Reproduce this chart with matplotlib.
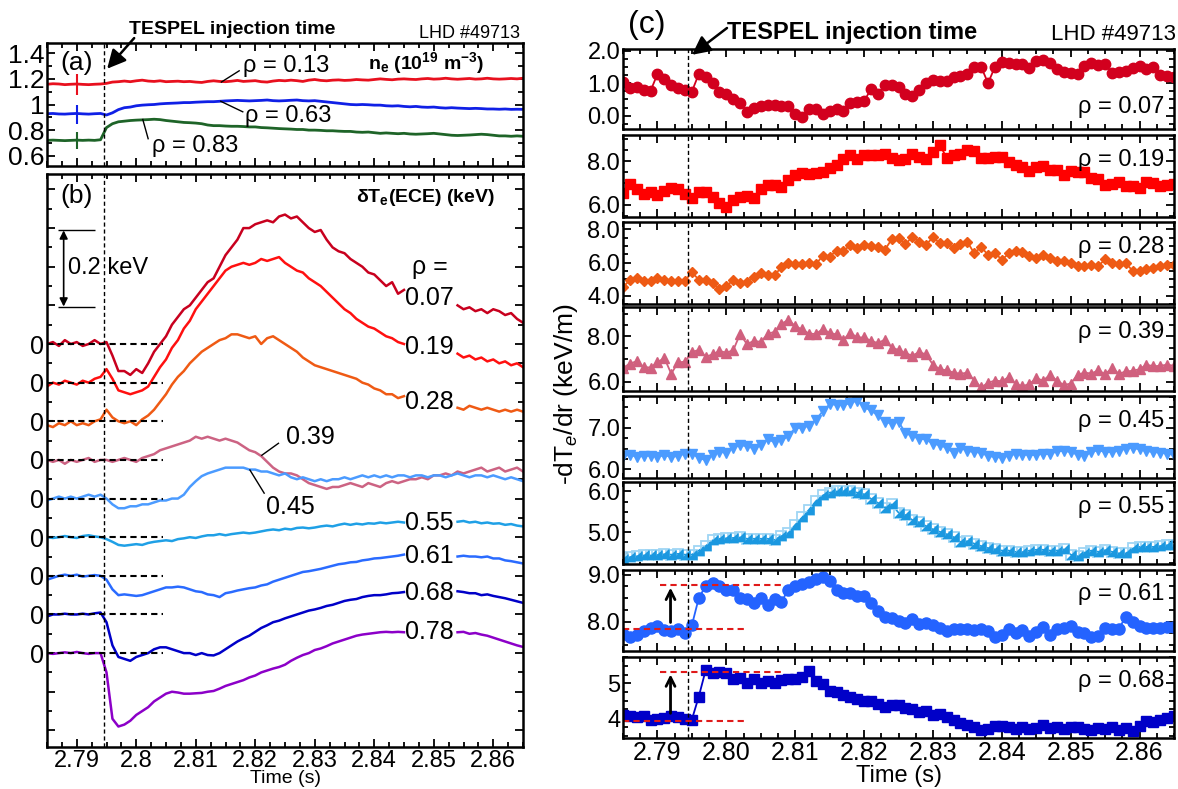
import matplotlib
matplotlib.use('Agg')
import matplotlib.pyplot as plt
import numpy as np
from matplotlib.ticker import MultipleLocator, FuncFormatter

plt.rcParams['font.family'] = ['Liberation Sans', 'DejaVu Sans']
plt.rcParams['mathtext.fontset'] = 'custom'
plt.rcParams['mathtext.rm'] = 'Liberation Sans'
plt.rcParams['mathtext.it'] = 'Liberation Sans:italic'
plt.rcParams['mathtext.bf'] = 'Liberation Sans:bold'

nan = np.nan

# 1 ms sampling, 2.785 s .. 2.865 s
time = np.round(2.785 + 0.001 * np.arange(81), 3)
t_inj = 2.7945

# ---- (a) line averaged density (1e19 m^-3)
ne_013 = [1.158, 1.162, 1.160, 1.155, 1.158, 1.160, 1.157, 1.155, 1.158, 1.160,
          1.165, 1.175, 1.178, 1.183, 1.178, 1.185, 1.190, 1.183, 1.180, 1.185,
          1.178, 1.180, 1.182, 1.178, 1.180, 1.175, 1.172, 1.180, 1.185, 1.180,
          1.178, 1.182, 1.188, 1.180, 1.183, 1.186, 1.178, 1.175, 1.183, 1.188,
          1.185, 1.190, 1.186, 1.180, 1.190, 1.195, 1.188, 1.185, 1.190, 1.192,
          1.188, 1.190, 1.195, 1.192, 1.190, 1.195, 1.200, 1.196, 1.193, 1.198,
          1.200, 1.197, 1.195, 1.200, 1.203, 1.198, 1.200, 1.205, 1.200, 1.197,
          1.200, 1.203, 1.198, 1.200, 1.205, 1.200, 1.198, 1.200, 1.203, 1.200, 1.205]
ne_063 = [0.928, 0.930, 0.926, 0.925, 0.928, 0.930, 0.927, 0.925, 0.928, 0.930,
          0.918, 0.935, 0.960, 0.975, 0.980, 0.990, 0.995, 0.998, 1.000, 1.005,
          1.008, 1.010, 1.012, 1.015, 1.015, 1.018, 1.020, 1.022, 1.022, 1.025,
          1.028, 1.030, 1.032, 1.030, 1.028, 1.030, 1.032, 1.035, 1.030, 1.028,
          1.030, 1.033, 1.035, 1.030, 1.028, 1.030, 1.025, 1.020, 1.015, 1.010,
          1.005, 1.000, 0.998, 1.000, 0.998, 0.995, 0.995, 0.990, 0.988, 0.990,
          0.985, 0.982, 0.985, 0.980, 0.978, 0.980, 0.975, 0.972, 0.975, 0.972,
          0.970, 0.968, 0.970, 0.968, 0.965, 0.965, 0.963, 0.965, 0.962, 0.963, 0.962]
ne_083 = [0.720, 0.722, 0.720, 0.718, 0.720, 0.722, 0.720, 0.722, 0.720, 0.725,
          0.820, 0.850, 0.865, 0.870, 0.875, 0.878, 0.880, 0.882, 0.885, 0.882,
          0.875, 0.870, 0.865, 0.860, 0.858, 0.855, 0.850, 0.840, 0.835, 0.835,
          0.832, 0.830, 0.830, 0.828, 0.825, 0.825, 0.820, 0.818, 0.815, 0.812,
          0.810, 0.808, 0.805, 0.805, 0.800, 0.800, 0.798, 0.795, 0.795, 0.792,
          0.790, 0.790, 0.785, 0.783, 0.785, 0.780, 0.775, 0.778, 0.775, 0.772,
          0.775, 0.770, 0.768, 0.770, 0.772, 0.775, 0.770, 0.765, 0.760, 0.758,
          0.760, 0.762, 0.765, 0.768, 0.765, 0.760, 0.755, 0.755, 0.752, 0.755, 0.752]
err_t = 2.7901
err_lo = [1.076, 0.851, 0.650]
err_hi = [1.237, 0.993, 0.788]

# ---- (b) ECE delta Te (keV), relative to each trace's zero
b_007 = [0.0, 0.005, -0.005, 0.01, 0.0, 0.005, -0.005, 0.0, 0.01, 0.0,
         0.005, -0.03, -0.07, -0.07, -0.08, -0.065, -0.075, -0.05, -0.02, 0.0,
         0.02, 0.05, 0.07, 0.09, 0.1, 0.12, 0.14, 0.16, 0.17, 0.2,
         0.23, 0.25, 0.27, 0.3, 0.3, 0.31, 0.315, 0.32, 0.315, 0.33,
         0.335, 0.325, 0.33, 0.315, 0.3, 0.29, 0.295, 0.27, 0.25, 0.24,
         0.235, 0.22, 0.21, 0.2, 0.185, 0.18, 0.165, 0.15, 0.16, 0.13,
         0.14, nan, nan, nan, nan, nan, nan, nan, nan, 0.1,
         0.09, 0.095, 0.085, 0.09, 0.08, 0.09, 0.085, 0.075, 0.08, 0.065, 0.055]
b_019 = [-0.01, 0.0, -0.005, 0.005, 0.0, -0.005, 0.005, 0.0, 0.01, 0.015,
         0.035, 0.01, -0.02, -0.025, -0.03, -0.025, -0.02, -0.01, 0.015, 0.04,
         0.06, 0.09, 0.11, 0.14, 0.16, 0.19, 0.21, 0.23, 0.25, 0.27,
         0.29, 0.3, 0.305, 0.31, 0.305, 0.31, 0.32, 0.315, 0.32, 0.325,
         0.31, 0.3, 0.29, 0.285, 0.27, 0.26, 0.25, 0.235, 0.22, 0.205,
         0.19, 0.18, 0.165, 0.155, 0.145, 0.14, 0.13, 0.12, 0.115, 0.105,
         0.1, nan, nan, nan, nan, nan, nan, nan, nan, 0.075,
         0.065, 0.07, 0.06, 0.065, 0.055, 0.06, 0.05, 0.055, 0.045, 0.05, 0.04]
b_028 = [-0.01, -0.015, -0.005, -0.01, 0.0, -0.01, -0.005, -0.01, 0.0, 0.005,
         0.03, 0.01, 0.0, -0.005, 0.0, -0.01, 0.005, 0.015, 0.03, 0.05,
         0.07, 0.095, 0.115, 0.13, 0.15, 0.165, 0.18, 0.19, 0.2, 0.21,
         0.215, 0.225, 0.225, 0.22, 0.215, 0.22, 0.2, 0.215, 0.22, 0.21,
         0.2, 0.19, 0.18, 0.165, 0.155, 0.145, 0.14, 0.135, 0.13, 0.125,
         0.12, 0.115, 0.11, 0.1, 0.095, 0.085, 0.08, 0.07, 0.07, 0.06,
         0.065, nan, nan, nan, nan, nan, nan, nan, nan, 0.035,
         0.03, 0.04, 0.035, 0.03, 0.035, 0.03, 0.025, 0.03, 0.025, 0.03, 0.025]
b_039 = [0.0, -0.005, 0.0, -0.01, 0.0, -0.005, 0.0, 0.005, -0.005, 0.0,
         0.0, -0.005, 0.0, 0.005, 0.0, -0.005, 0.005, 0.01, 0.015, 0.025,
         0.03, 0.035, 0.04, 0.045, 0.05, 0.06, 0.055, 0.06, 0.055, 0.05,
         0.055, 0.05, 0.045, 0.035, 0.025, 0.02, 0.01, -0.005, -0.02, -0.03,
         -0.035, -0.035, -0.04, -0.05, -0.06, -0.065, -0.07, -0.075, -0.07, -0.07,
         -0.065, -0.06, -0.065, -0.07, -0.06, -0.065, -0.07, -0.06, -0.055, -0.06,
         -0.055, -0.05, -0.05, -0.045, -0.05, -0.04, -0.04, -0.035, -0.04, -0.03,
         -0.035, -0.03, -0.025, -0.02, -0.03, -0.025, -0.02, -0.03, -0.025, -0.02, -0.03]
b_045 = [-0.005, 0.0, 0.005, 0.0, 0.005, 0.0, 0.005, 0.01, 0.005, 0.01,
         0.0, -0.015, -0.025, -0.025, -0.02, -0.02, -0.015, -0.015, -0.01, -0.005,
         -0.005, 0.0, 0.0, 0.01, 0.03, 0.045, 0.058, 0.065, 0.07, 0.075,
         0.08, 0.08, 0.08, 0.08, 0.075, 0.075, 0.07, 0.07, 0.065, 0.06,
         0.065, 0.055, 0.05, 0.055, 0.05, 0.045, 0.05, 0.045, 0.05, 0.05,
         0.055, 0.05, 0.055, 0.06, 0.055, 0.06, 0.055, 0.06, 0.055, 0.06,
         0.06, 0.055, 0.06, 0.06, 0.055, 0.06, 0.06, 0.055, 0.06, 0.065,
         0.06, 0.055, 0.06, 0.06, 0.055, 0.06, 0.055, 0.05, 0.055, 0.05, 0.045]
b_055 = [0.0, -0.002, 0.0, 0.003, 0.0, -0.002, 0.003, 0.005, 0.002, 0.0,
         -0.005, -0.012, -0.02, -0.022, -0.02, -0.018, -0.02, -0.015, -0.012, -0.01,
         -0.008, -0.01, -0.005, -0.003, 0.0, -0.002, 0.002, 0.005, 0.005, 0.008,
         0.005, 0.008, 0.01, 0.012, 0.01, 0.012, 0.015, 0.018, 0.02, 0.018,
         0.022, 0.02, 0.024, 0.025, 0.023, 0.025, 0.028, 0.03, 0.028, 0.032,
         0.035, 0.032, 0.035, 0.033, 0.036, 0.035, 0.038, 0.036, 0.038, 0.04,
         0.038, nan, nan, nan, nan, nan, nan, nan, nan, 0.04,
         0.042, 0.038, 0.04, 0.036, 0.038, 0.035, 0.036, 0.032, 0.034, 0.03, 0.028]
b_061 = [-0.01, -0.005, 0.0, 0.003, 0.0, 0.003, -0.002, 0.0, 0.002, 0.0,
         -0.01, -0.035, -0.05, -0.048, -0.05, -0.052, -0.05, -0.045, -0.04, -0.035,
         -0.03, -0.03, -0.028, -0.03, -0.035, -0.04, -0.042, -0.048, -0.05, -0.055,
         -0.045, -0.042, -0.038, -0.035, -0.032, -0.03, -0.025, -0.022, -0.015, -0.01,
         -0.005, 0.0, 0.005, 0.01, 0.012, 0.015, 0.018, 0.022, 0.026, 0.03,
         0.032, 0.035, 0.036, 0.04, 0.042, 0.045, 0.046, 0.048, 0.05, 0.052,
         0.055, nan, nan, nan, nan, nan, nan, nan, nan, 0.05,
         0.052, 0.05, 0.05, 0.048, 0.05, 0.045, 0.045, 0.04, 0.038, 0.035, 0.032]
b_068 = [-0.005, 0.0, 0.0, 0.002, 0.0, 0.0, 0.002, 0.0, 0.003, 0.005,
         -0.02, -0.08, -0.11, -0.115, -0.12, -0.11, -0.105, -0.1, -0.09, -0.085,
         -0.085, -0.09, -0.095, -0.1, -0.1, -0.105, -0.1, -0.105, -0.106, -0.1,
         -0.09, -0.08, -0.07, -0.062, -0.055, -0.045, -0.035, -0.028, -0.02, -0.016,
         -0.01, -0.005, 0.0, 0.005, 0.01, 0.013, 0.017, 0.022, 0.025, 0.03,
         0.035, 0.038, 0.04, 0.045, 0.048, 0.05, 0.05, 0.052, 0.055, 0.056,
         0.058, nan, nan, nan, nan, nan, nan, nan, nan, 0.06,
         0.058, 0.055, 0.055, 0.05, 0.052, 0.048, 0.045, 0.042, 0.038, 0.034, 0.03]
b_078 = [0.0, -0.002, 0.0, 0.002, 0.0, 0.003, 0.0, -0.002, 0.0, 0.0,
         -0.05, -0.17, -0.19, -0.185, -0.175, -0.16, -0.15, -0.14, -0.125, -0.115,
         -0.105, -0.1, -0.102, -0.105, -0.105, -0.104, -0.103, -0.1, -0.098, -0.092,
         -0.085, -0.08, -0.075, -0.07, -0.063, -0.058, -0.05, -0.045, -0.04, -0.036,
         -0.03, -0.02, -0.012, -0.005, 0.0, 0.008, 0.012, 0.018, 0.025, 0.03,
         0.035, 0.04, 0.045, 0.048, 0.05, 0.052, 0.054, 0.055, 0.054, 0.055,
         0.054, nan, nan, nan, nan, nan, nan, nan, nan, 0.054,
         0.055, 0.05, 0.052, 0.048, 0.045, 0.04, 0.035, 0.03, 0.025, 0.02, 0.016]
ece_traces = [b_007, b_019, b_028, b_039, b_045, b_055, b_061, b_068, b_078]
ece_offsets = [0.8, 0.7, 0.6, 0.5, 0.4, 0.3, 0.2, 0.1, 0.0]
ece_colors = ['#c8001e', '#ff1010', '#ef5a14', '#cc6383', '#4b9bff',
              '#1fa0e6', '#2a6bff', '#0000c8', '#8c00c8']

# ---- (c) -dTe/dr (keV/m)
g_007 = [1.02, 0.85, 0.88, 0.8, 0.76, 1.28, 1.12, 0.95, 0.85, 0.8,
         0.74, 1.28, 1.2, 1.0, 0.73, 0.68, 0.5, 0.4, 0.12, 0.25,
         0.29, 0.32, 0.33, 0.3, 0.3, 0.04, -0.05, 0.2, 0.22, 0.04,
         0.15, 0.22, 0.14, 0.38, 0.41, 0.44, 0.82, 0.66, 0.93, 0.95,
         0.88, 0.66, 0.62, 0.8, 1.0, 1.1, 1.08, 1.06, 1.19, 1.22,
         1.27, 1.49, 1.5, 1.0, 1.5, 1.66, 1.63, 1.6, 1.58, 1.48,
         1.68, 1.72, 1.62, 1.42, 1.34, 1.3, 1.27, 1.54, 1.62, 1.55,
         1.58, 1.32, 1.33, 1.38, 1.46, 1.52, 1.45, 1.5, 1.26, 1.22, 1.18]
g_019 = [6.55, 6.95, 6.75, 6.5, 6.6, 6.45, 6.65, 6.78, 6.75, 6.5,
         6.3, 6.6, 6.6, 6.35, 6.1, 5.9, 6.23, 6.35, 6.4, 6.3,
         6.75, 6.9, 6.9, 6.8, 7.15, 7.35, 7.48, 7.42, 7.48, 7.5,
         7.7, 7.82, 8.1, 8.3, 8.1, 8.28, 8.27, 8.3, 8.35, 8.15,
         8.06, 8.12, 8.35, 8.2, 8.12, 8.4, 8.75, 8.15, 8.28, 8.35,
         8.52, 8.45, 8.15, 8.15, 8.18, 8.2, 7.95, 7.85, 7.72, 7.55,
         7.75, 7.78, 7.6, 7.6, 7.35, 7.55, 7.5, 7.5, 7.25, 7.2,
         6.9, 6.95, 7.05, 6.85, 6.85, 6.78, 7.05, 7.0, 6.88, 6.9, 6.95]
g_028 = [4.5, 4.95, 5.05, 4.9, 4.9, 5.05, 4.95, 4.9, 4.9, 4.9,
         5.4, 4.97, 4.92, 4.75, 4.4, 4.55, 4.95, 4.75, 4.85, 5.15,
         5.35, 5.25, 5.25, 5.7, 5.95, 5.88, 5.92, 5.95, 5.9, 6.4,
         6.35, 6.72, 6.7, 7.05, 6.9, 7.05, 7.0, 6.95, 6.75, 7.4,
         7.5, 7.1, 7.55, 7.25, 7.05, 7.55, 7.15, 7.15, 6.9, 7.1,
         7.25, 6.55, 6.95, 6.45, 6.6, 6.15, 6.55, 6.68, 6.62, 6.42,
         6.3, 6.45, 6.28, 6.12, 6.1, 5.98, 5.78, 5.78, 5.85, 5.78,
         6.2, 5.95, 5.88, 5.95, 5.5, 5.5, 5.6, 5.65, 5.8, 5.85, 5.85]
g_039 = [6.6, 6.8, 6.9, 6.65, 6.62, 6.85, 7.05, 6.35, 6.85, 6.88,
         7.3, 7.4, 7.1, 7.2, 7.35, 7.28, 7.38, 8.1, 7.65, 7.8,
         7.75, 8.1, 8.2, 8.55, 8.72, 8.45, 8.3, 8.12, 8.1, 8.32,
         8.15, 8.08, 7.85, 8.15, 7.95, 7.95, 7.8, 7.7, 7.85, 7.5,
         7.4, 7.25, 7.15, 7.3, 7.2, 6.75, 6.55, 6.5, 6.4, 6.35,
         6.4, 6.05, 5.75, 5.95, 6.05, 6.02, 6.2, 5.9, 5.8, 5.9,
         6.15, 6.05, 6.3, 6.05, 5.85, 5.92, 6.3, 6.4, 6.36, 6.5,
         6.33, 6.6, 6.35, 6.45, 6.48, 6.55, 6.75, 6.68, 6.7, 6.75, 6.7]
g_045 = [6.32, 6.35, 6.3, 6.32, 6.33, 6.3, 6.34, 6.3, 6.32, 6.38,
         6.38, 6.28, 6.22, 6.35, 6.42, 6.4, 6.52, 6.58, 6.56, 6.5,
         6.58, 6.72, 6.66, 6.7, 6.8, 7.0, 7.0, 7.05, 7.2, 7.4,
         7.57, 7.56, 7.55, 7.6, 7.66, 7.5, 7.42, 7.3, 7.15, 7.1,
         7.15, 6.88, 6.8, 6.74, 6.72, 6.62, 6.58, 6.52, 6.4, 6.52,
         6.44, 6.42, 6.4, 6.32, 6.3, 6.28, 6.33, 6.37, 6.35, 6.35,
         6.34, 6.38, 6.36, 6.44, 6.44, 6.42, 6.35, 6.32, 6.42, 6.46,
         6.42, 6.42, 6.45, 6.5, 6.52, 6.48, 6.44, 6.42, 6.4, 6.38, 6.35]
g_055 = [4.34, 4.39, 4.41, 4.43, 4.43, 4.44, 4.46, 4.45, 4.47, 4.45,
         4.45, 4.55, 4.66, 4.8, 4.84, 4.85, 4.86, 4.87, 4.84, 4.84,
         4.84, 4.84, 4.81, 4.9, 4.98, 5.18, 5.36, 5.55, 5.76, 5.9,
         5.97, 6.0, 6.0, 6.0, 5.97, 5.93, 5.82, 5.72, 5.6, 5.68,
         5.48, 5.42, 5.3, 5.24, 5.15, 5.07, 5.01, 4.95, 4.88, 4.76,
         4.78, 4.72, 4.66, 4.61, 4.58, 4.55, 4.55, 4.52, 4.51, 4.55,
         4.57, 4.57, 4.55, 4.55, 4.58, 4.45, 4.41, 4.5, 4.55, 4.52,
         4.56, 4.52, 4.48, 4.48, 4.6, 4.64, 4.64, 4.64, 4.66, 4.68, 4.68]
g_061 = [7.74, 7.66, 7.72, 7.8, 7.86, 7.9, 7.82, 7.8, 7.84, 7.76,
         7.92, 8.5, 8.76, 8.82, 8.75, 8.68, 8.68, 8.5, 8.48, 8.4,
         8.5, 8.36, 8.48, 8.42, 8.68, 8.76, 8.8, 8.84, 8.9, 8.94,
         8.86, 8.68, 8.6, 8.6, 8.55, 8.55, 8.4, 8.22, 8.1, 8.07,
         8.02, 7.97, 8.05, 7.95, 7.97, 7.92, 7.87, 7.8, 7.85, 7.84,
         7.85, 7.82, 7.83, 7.8, 7.66, 7.72, 7.84, 7.76, 7.82, 7.7,
         7.77, 7.88, 7.72, 7.84, 7.87, 7.9, 7.78, 7.75, 7.66, 7.68,
         7.86, 7.84, 7.85, 8.1, 7.98, 7.9, 7.86, 7.86, 7.87, 7.88, 7.88]
g_068 = [4.1, 4.05, 4.02, 4.06, 3.96, 3.98, 4.0, 4.06, 4.02, 3.98,
         3.96, 4.62, 5.38, 5.3, 5.33, 5.31, 5.12, 5.15, 5.0, 5.13,
         5.0, 5.07, 5.0, 5.1, 5.13, 5.12, 5.18, 5.35, 5.08, 4.97,
         4.78, 4.75, 4.66, 4.6, 4.55, 4.5, 4.48, 4.4, 4.33, 4.38,
         4.38, 4.28, 4.26, 4.18, 4.2, 4.08, 4.12, 4.03, 3.94, 3.87,
         3.8, 3.76, 3.65, 3.68, 3.78, 3.78, 3.74, 3.7, 3.76, 3.7,
         3.73, 3.8, 3.73, 3.75, 3.7, 3.76, 3.74, 3.7, 3.66, 3.72,
         3.68, 3.75, 3.65, 3.72, 3.62, 3.78, 3.92, 3.88, 3.95, 4.0, 4.05]
grad_traces = [g_007, g_019, g_028, g_039, g_045, g_055, g_061, g_068]
grad_rho = ['0.07', '0.19', '0.28', '0.39', '0.45', '0.55', '0.61', '0.68']
grad_colors = ['#d2001e', '#ff0000', '#ee5a14', '#d0607e', '#4b9bff',
               '#1b98e0', '#2463ff', '#0000c8']
grad_markers = ['o', 's', 'D', '^', 'v', [(1, -1), (1, 1), (-1, -1)], 'o', 's']
grad_msize = [7.5, 7.5, 5.5, 7, 7, 6.5, 8, 7.5]
grad_ylim = [(-0.41, 2.05), (5.45, 9.2), (3.49, 8.45), (5.59, 9.29),
             (5.79, 7.77), (4.22, 6.23), (7.37, 9.1), (3.43, 5.76)]
grad_yticks = [[0, 1, 2], [6, 8], [4, 6, 8], [6, 8], [6, 7], [5, 6], [8, 9], [4, 5]]
grad_ylabels = [['0.0', '1.0', '2.0'], ['6.0', '8.0'], ['4.0', '6.0', '8.0'],
                ['6.0', '8.0'], ['6.0', '7.0'], ['5.0', '6.0'], ['8.0', '9.0'],
                ['4', '5']]
grad_minor = [0.25, 0.5, 0.5, 0.5, 0.25, 0.25, 0.25, 0.25]
# levels before / after injection (red dashed guides)
jump_lo = [7.84, 3.93]
jump_hi = [8.77, 5.33]

W, H = 1178, 789
fig = plt.figure(figsize=(W / 100, H / 100), dpi=100)


def box(x0, y0, x1, y1):
    return [x0 / W, 1 - y1 / H, (x1 - x0) / W, (y1 - y0) / H]


def style(ax, fmt, labels=False, size=15):
    ax.set_xlim(2.785, 2.865)
    ax.xaxis.set_major_locator(MultipleLocator(0.01))
    ax.xaxis.set_minor_locator(MultipleLocator(0.0025))
    ax.xaxis.set_major_formatter(FuncFormatter(lambda v, p: fmt % v))
    ax.tick_params(which='both', direction='in', top=True, right=True, width=1.3)
    ax.tick_params(which='major', length=6, labelsize=16, pad=2)
    ax.tick_params(which='minor', length=3.5)
    ax.tick_params(axis='x', labelsize=size)
    for s in ax.spines.values():
        s.set_linewidth(1.8)
    if not labels:
        ax.tick_params(labelbottom=False)


# ---------------- (a)
axa = fig.add_axes(box(47, 43, 523, 166))
style(axa, '%g')
axa.set_ylim(0.52, 1.48)
axa.set_yticks([0.6, 0.8, 1.0, 1.2, 1.4])
axa.set_yticklabels(['0.6', '0.8', '1', '1.2', '1.4'])
axa.yaxis.set_minor_locator(MultipleLocator(0.1))
axa.tick_params(axis='y', labelsize=19)
axa.plot(time, ne_013, color='#e8101e', lw=2)
axa.plot(time, ne_063, color='#1020e6', lw=2)
axa.plot(time, ne_083, color='#1e6428', lw=2)
axa.vlines([err_t] * 3, err_lo, err_hi, colors=['#e8101e', '#1020e6', '#1e6428'], lw=1.5)
axa.axvline(t_inj, color='k', lw=1, ls=(0, (3, 2)))
axa.text(2.7900, 1.325, '(a)', fontsize=19, ha='center', va='center')
axa.text(2.8179, 1.30, 'ρ = 0.13', fontsize=17, va='center')
axa.plot([2.8143, 2.8173], [1.175, 1.263], color='k', lw=1)
axa.text(2.8182, 0.913, 'ρ = 0.63', fontsize=17, va='center')
axa.plot([2.8142, 2.8179], [1.025, 0.943], color='k', lw=1)
axa.text(2.8026, 0.676, 'ρ = 0.83', fontsize=17, va='center')
axa.plot([2.8011, 2.8020], [0.883, 0.733], color='k', lw=1)
axa.text(2.8389, 1.325, r'$\mathbf{n_e\ (10^{19}\ m^{-3})}$', fontsize=14, va='center')
axa.annotate('', xy=(2.7948, 1.263), xycoords='data',
             xytext=(136 / W, 1 - 36 / H), textcoords='figure fraction',
             arrowprops=dict(arrowstyle='-|>', color='k', lw=1.8, mutation_scale=28))
fig.text(232 / W, 1 - 30 / H, 'TESPEL injection time', fontsize=14,
         fontweight='bold', ha='center', va='center')
fig.text(520 / W, 1 - 33 / H, 'LHD #49713', fontsize=13, ha='right', va='center')

# ---------------- (b)
axb = fig.add_axes(box(47, 174, 523, 747))
style(axb, '%g', labels=True, size=17)
axb.set_ylim(-0.243, 1.24)
yt = np.round(np.arange(-0.2, 1.25, 0.1), 2)
axb.set_yticks(yt)
axb.set_yticklabels(['0' if 0 <= v <= 0.8 else '' for v in yt])
axb.yaxis.set_minor_locator(MultipleLocator(0.05))
axb.tick_params(axis='y', labelsize=18)
for tr, off, c in zip(ece_traces, ece_offsets, ece_colors):
    axb.plot(time, np.array(tr) + off, color=c, lw=1.8)
axb.hlines(ece_offsets, 2.785, 2.8045, colors='k', lw=1.5, linestyles=(0, (3, 2)))
axb.axvline(t_inj, color='k', lw=1, ls=(0, (3, 2)))
axb.set_xlabel('Time (s)', fontsize=14, labelpad=-1)
axb.text(2.7900, 1.182, '(b)', fontsize=19, ha='center', va='center')
axb.text(2.8370, 1.178, r'$\mathbf{\delta T_e(ECE)\ (keV)}$', fontsize=14, va='center')
axb.hlines([0.897, 1.094], 2.7869, 2.7930, colors='k', lw=1)
axb.annotate('', xy=(2.7878, 0.897), xytext=(2.7878, 1.094),
             arrowprops=dict(arrowstyle='<|-|>', color='k', lw=1.2, mutation_scale=12,
                             shrinkA=0, shrinkB=0))
axb.text(2.7885, 0.996, '0.2 keV', fontsize=17, va='center')
axb.text(2.8494, 1.0, 'ρ =', fontsize=18, ha='center', va='center')
for lab, y in zip(['0.07', '0.19', '0.28'], [0.918, 0.793, 0.651]):
    axb.text(2.8452, y, lab, fontsize=18, va='center')
for lab, y in zip(['0.55', '0.61', '0.68', '0.78'], [0.336, 0.251, 0.156, 0.055]):
    axb.text(2.8452, y, lab, fontsize=18, va='center')
axb.text(2.8251, 0.560, '0.39', fontsize=18, va='center')
axb.plot([2.8211, 2.8239], [0.512, 0.543], color='k', lw=1)
axb.text(2.8218, 0.379, '0.45', fontsize=18, va='center')
axb.plot([2.8191, 2.8215], [0.474, 0.414], color='k', lw=1)

# ---------------- (c)
rows = [(49, 129), (135, 217), (222, 304), (307, 391),
        (396, 478), (482, 564), (570, 651), (657, 738)]
axes_c = []
for i, (top, bot) in enumerate(rows):
    ax = fig.add_axes(box(623, top, 1174, bot))
    last = i == len(rows) - 1
    style(ax, '%.2f', labels=last, size=18)
    ax.set_ylim(*grad_ylim[i])
    ax.set_yticks(grad_yticks[i])
    ax.set_yticklabels(grad_ylabels[i])
    ax.yaxis.set_minor_locator(MultipleLocator(grad_minor[i]))
    ax.tick_params(axis='y', labelsize=17)
    c = grad_colors[i]
    if i == 5:
        ax.plot(time, grad_traces[i], color=c, lw=1.2)
        ax.plot(time, grad_traces[i], ls='none', marker='s', ms=7,
                mfc='none', mec='#9fd6f4', mew=1.3)
        ax.plot(time, grad_traces[i], ls='none', marker=grad_markers[i],
                ms=grad_msize[i], color=c, mec=c)
    else:
        ax.plot(time, grad_traces[i], color=c, lw=1.3, marker=grad_markers[i],
                ms=grad_msize[i], mec=c, mfc=c)
    ax.axvline(t_inj, color='k', lw=1, ls=(0, (3, 2)))
    ypos = 0.27 if i == 0 else 0.70
    ax.text(0.982, ypos, 'ρ = ' + grad_rho[i], transform=ax.transAxes,
            fontsize=17, ha='right', va='center')
    axes_c.append(ax)

for ax, lo, hi in zip(axes_c[6:], jump_lo, jump_hi):
    ax.hlines(lo, 2.785, 2.8030, colors='#e01a1a', lw=1.5, linestyles=(0, (3, 2)))
    ax.hlines(hi, 2.7903, 2.8085, colors='#e01a1a', lw=1.5, linestyles=(0, (3, 2)))
    ax.annotate('', xy=(2.7919, hi - 0.05 * (hi - lo)), xytext=(2.7919, lo + 0.15 * (hi - lo)),
                arrowprops=dict(arrowstyle='->', color='k', lw=2, mutation_scale=16,
                                shrinkA=0, shrinkB=0))

axes_c[-1].set_xlabel('Time (s)', fontsize=17, labelpad=0)
fig.text(566 / W, 0.5, '-dT$_e$/dr (keV/m)', fontsize=19, rotation=90,
         ha='center', va='center')
fig.text(647 / W, 1 - 25 / H, '(c)', fontsize=23, ha='center', va='center')
fig.text(727 / W, 1 - 32 / H, 'TESPEL injection time', fontsize=17,
         fontweight='bold', ha='left', va='center')
fig.text(1176 / W, 1 - 35 / H, 'LHD #49713', fontsize=16, ha='right', va='center')
axes_c[0].annotate('', xy=(2.7947, 1.82), xycoords='data',
                   xytext=(727 / W, 1 - 28 / H), textcoords='figure fraction',
                   arrowprops=dict(arrowstyle='-|>', color='k', lw=1.8, mutation_scale=28,
                                   shrinkA=0))

fig.savefig('out.png', dpi=100)
